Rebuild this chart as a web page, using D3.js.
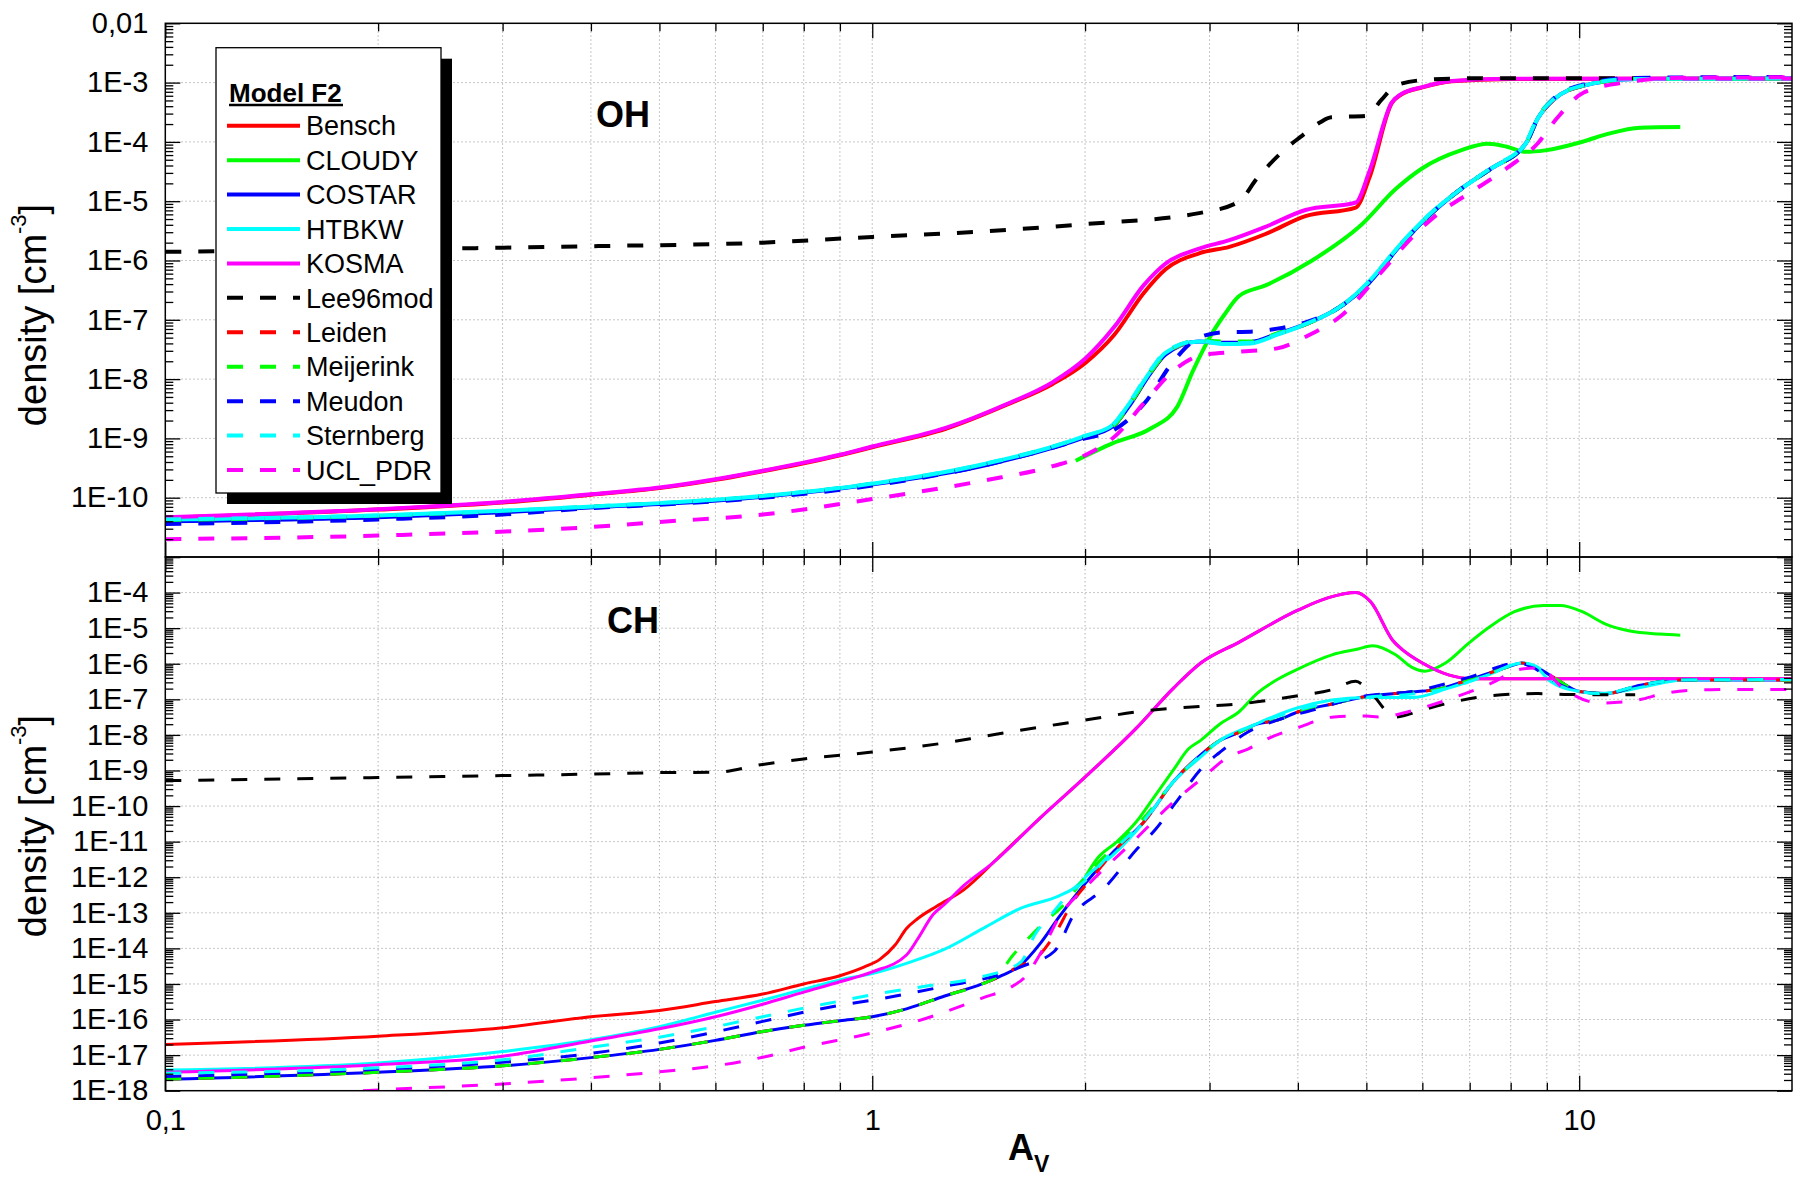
<!DOCTYPE html>
<html><head><meta charset="utf-8">
<script src="https://cdn.jsdelivr.net/npm/d3@7"></script>
<style>
body{margin:0;background:#fff}
svg{display:block}
text{font-family:"Liberation Sans",Arial,Helvetica,sans-serif}
</style></head>
<body><svg id="chart" width="1800" height="1181"></svg>
<script>
// ---------------- data ----------------
const MODELS = ["Bensch","CLOUDY","COSTAR","HTBKW","KOSMA","Lee96mod","Leiden","Meijerink","Meudon","Sternberg","UCL_PDR"];
const COLORS = ["#ff0000","#00ff00","#0000ff","#00ffff","#ff00ff","#000000","#ff0000","#00ff00","#0000ff","#00ffff","#ff00ff"];
const DASHED = [false,false,false,false,false,true,true,true,true,true,true];

const xMinorTicks = [0.2,0.3,0.4,0.5,0.6,0.7,0.8,0.9,2,3,4,5,6,7,8,9];
const xMajorTicks = [0.1,1,10];
const xMajorLabels = ["0,1","1","10"];
const yTopMajor = [1e-2,1e-3,1e-4,1e-5,1e-6,1e-7,1e-8,1e-9,1e-10,1e-11];
const yTopLabels = ["0,01","1E-3","1E-4","1E-5","1E-6","1E-7","1E-8","1E-9","1E-10",""];
const yBotMajor = [1e-3,1e-4,1e-5,1e-6,1e-7,1e-8,1e-9,1e-10,1e-11,1e-12,1e-13,1e-14,1e-15,1e-16,1e-17,1e-18];
const yBotLabels = ["","1E-4","1E-5","1E-6","1E-7","1E-8","1E-9","1E-10","1E-11","1E-12","1E-13","1E-14","1E-15","1E-16","1E-17","1E-18"];

// ---- OH panel ----
const OH_Bensch = [[0.1,4.6e-11],[0.2,6.3e-11],[0.3,8.3e-11],[0.4,1.12e-10],[0.5,1.45e-10],[0.6,2.0e-10],[0.7,2.8e-10],[0.8,3.8e-10],[0.9,5.2e-10],[1.0,7.1e-10],[1.27,1.45e-9],[1.55,3.7e-9],[1.8,8.3e-9],[2.0,1.86e-8],[2.2,5.6e-8],[2.42,2.8e-7],[2.6,7.1e-7],[2.9,1.32e-6],[3.2,1.7e-6],[3.6,2.8e-6],[4.1,5.6e-6],[4.83,7.8e-6],[5.05,2.5e-5],[5.43,4.5e-4],[5.6,6.3e-4],[6.0,8.3e-4],[6.6,1.05e-3],[8,1.15e-3],[20,1.17e-3]];
const OH_CLOUDY = [[1.94,4.2e-10],[2.19,8.3e-10],[2.48,1.48e-9],[2.7,3.4e-9],[2.84,1.35e-8],[2.92,2.7e-8],[3.0,5.0e-8],[3.15,1.23e-7],[3.3,2.5e-7],[3.6,3.8e-7],[4.19,1.0e-6],[4.92,4.0e-6],[5.5,1.6e-5],[6.0,3.6e-5],[6.8,7.2e-5],[7.43,9.3e-5],[7.9,8.3e-5],[8.41,6.8e-5],[8.95,7.2e-5],[10.15,1.02e-4],[10.94,1.35e-4],[12.2,1.74e-4],[13.9,1.78e-4]];
const OH_COSTAR = [[0.1,4.0e-11],[0.2,4.7e-11],[0.3,5.7e-11],[0.41,7.0e-11],[0.5,7.8e-11],[0.7,1.04e-10],[1.0,1.68e-10],[1.44,3.5e-10],[2.0,1.05e-9],[2.19,1.6e-9],[2.3,3.3e-9],[2.48,1.3e-8],[2.6,2.6e-8],[2.9,4.3e-8],[3.15,4.1e-8],[3.43,4.2e-8],[3.74,5.8e-8],[4.13,8.7e-8],[4.57,1.6e-7],[5.05,4.3e-7],[5.57,1.74e-6],[6.16,6.0e-6],[6.8,1.6e-5],[7.52,3.6e-5],[8.41,9.5e-5],[8.74,2.5e-4],[9.19,5.1e-4],[10.15,8.9e-4],[12,1.15e-3],[20,1.17e-3]];
const OH_HTBKW = [[0.1,4.3e-11],[0.2,5.0e-11],[0.3,6.0e-11],[0.41,7.2e-11],[0.5,8.1e-11],[0.7,1.07e-10],[1.0,1.72e-10],[1.44,3.7e-10],[2.0,1.1e-9],[2.19,1.7e-9],[2.3,3.6e-9],[2.48,1.4e-8],[2.6,2.8e-8],[2.9,4.3e-8],[3.15,3.9e-8],[3.43,4.0e-8],[3.74,5.6e-8],[4.13,8.7e-8],[4.57,1.6e-7],[5.05,4.5e-7],[5.57,1.8e-6],[6.16,6.2e-6],[6.8,1.6e-5],[7.52,3.6e-5],[8.41,9.5e-5],[8.74,2.5e-4],[9.19,5.1e-4],[10.15,8.9e-4],[12,1.15e-3],[20,1.17e-3]];
const OH_KOSMA = [[0.1,4.7e-11],[0.2,6.4e-11],[0.3,8.5e-11],[0.4,1.14e-10],[0.5,1.48e-10],[0.6,2.05e-10],[0.7,2.85e-10],[0.8,3.9e-10],[0.9,5.3e-10],[1.0,7.3e-10],[1.27,1.5e-9],[1.55,3.8e-9],[1.8,8.9e-9],[2.0,2.2e-8],[2.2,7.6e-8],[2.42,3.8e-7],[2.6,8.9e-7],[2.9,1.58e-6],[3.2,2.2e-6],[3.6,3.7e-6],[4.1,7.1e-6],[4.83,9.5e-6],[5.05,3.2e-5],[5.43,4.6e-4],[5.6,6.4e-4],[6.0,8.4e-4],[6.6,1.06e-3],[8,1.16e-3],[20,1.17e-3]];
const OH_Lee96mod = [[0.1,1.4e-6],[0.26,1.6e-6],[0.41,1.75e-6],[0.7,2.0e-6],[1.0,2.5e-6],[1.44,3.1e-6],[2.0,4.1e-6],[2.9,6.3e-6],[3.3,9.8e-6],[3.5,2.4e-5],[3.65,4.2e-5],[3.9,8.9e-5],[4.03,1.2e-4],[4.29,2.1e-4],[4.46,2.6e-4],[5.0,2.75e-4],[5.25,5.1e-4],[5.5,8.9e-4],[6.0,1.1e-3],[7.0,1.18e-3],[12,1.18e-3]];
const OH_Leiden = [[0.1,4.1e-11],[0.2,4.8e-11],[0.3,5.8e-11],[0.41,7.1e-11],[0.5,7.9e-11],[0.7,1.05e-10],[1.0,1.7e-10],[1.44,3.6e-10],[2.0,1.07e-9],[2.19,1.6e-9],[2.3,3.4e-9],[2.48,1.35e-8],[2.6,2.7e-8],[2.9,4.4e-8],[3.15,4.1e-8],[3.43,4.2e-8],[3.74,5.8e-8],[4.13,8.7e-8],[4.57,1.6e-7],[5.05,4.3e-7],[5.57,1.74e-6],[6.16,6.0e-6],[6.8,1.6e-5],[7.52,3.6e-5],[8.41,9.5e-5],[8.74,2.5e-4],[9.19,5.1e-4],[10.15,8.9e-4],[12,1.15e-3],[20,1.17e-3]];
const OH_Meijerink = [[0.1,4.0e-11],[0.2,4.8e-11],[0.3,5.8e-11],[0.41,7.1e-11],[0.5,7.9e-11],[0.7,1.05e-10],[1.0,1.7e-10],[1.44,3.6e-10],[2.0,1.07e-9],[2.19,1.6e-9],[2.3,3.4e-9],[2.48,1.35e-8],[2.6,2.7e-8],[2.9,4.5e-8],[3.15,4.3e-8],[3.43,4.3e-8],[3.74,5.9e-8],[4.13,8.7e-8],[4.57,1.6e-7],[5.05,4.3e-7],[5.57,1.74e-6],[6.16,6.0e-6],[6.8,1.6e-5],[7.52,3.6e-5],[8.41,9.5e-5],[8.74,2.6e-4],[9.19,5.3e-4],[10.15,9.0e-4],[12,1.15e-3],[20,1.17e-3]];
const OH_Meudon = [[0.1,3.6e-11],[0.2,4.3e-11],[0.3,5.2e-11],[0.41,6.8e-11],[0.5,7.6e-11],[0.7,1.0e-10],[1.0,1.6e-10],[1.44,3.5e-10],[2.0,1.0e-9],[2.2,1.4e-9],[2.45,4.5e-9],[2.65,1.8e-8],[2.9,5.0e-8],[3.15,6.2e-8],[3.43,6.3e-8],[3.74,7.1e-8],[4.13,9.3e-8],[4.57,1.6e-7],[5.05,4.3e-7],[5.57,1.74e-6],[6.16,6.0e-6],[6.8,1.6e-5],[7.52,3.6e-5],[8.41,9.5e-5],[8.74,2.5e-4],[9.19,5.3e-4],[10.15,9.3e-4],[12,1.2e-3],[20,1.25e-3]];
const OH_Sternberg = [[0.1,4.3e-11],[0.2,5.0e-11],[0.3,6.0e-11],[0.41,7.2e-11],[0.5,8.1e-11],[0.7,1.07e-10],[1.0,1.73e-10],[1.44,3.7e-10],[2.0,1.1e-9],[2.19,1.7e-9],[2.3,3.7e-9],[2.48,1.45e-8],[2.6,2.9e-8],[2.9,4.4e-8],[3.15,4.0e-8],[3.43,4.1e-8],[3.74,5.7e-8],[4.13,8.8e-8],[4.57,1.6e-7],[5.05,4.5e-7],[5.57,1.8e-6],[6.16,6.2e-6],[6.8,1.6e-5],[7.52,3.7e-5],[8.41,1.0e-4],[8.74,2.6e-4],[9.19,5.2e-4],[10.15,9.0e-4],[12,1.15e-3],[20,1.17e-3]];
const OH_UCL_PDR = [[0.1,2.0e-11],[0.2,2.3e-11],[0.4,3.2e-11],[0.5,3.9e-11],[0.7,5.2e-11],[1.0,9.5e-11],[1.44,1.95e-10],[1.8,3.4e-10],[2.0,5.2e-10],[2.22,1.17e-9],[2.42,3.9e-9],[2.7,1.55e-8],[2.915,2.5e-8],[3.3,2.9e-8],[3.74,3.3e-8],[4.13,5.4e-8],[4.63,1.23e-7],[5.2,5.6e-7],[5.9,3.0e-6],[6.3,6.0e-6],[7.0,1.38e-5],[7.9,3.6e-5],[8.74,9.5e-5],[9.3,2.5e-4],[10.15,6.8e-4],[11.7,1.02e-3],[13.6,1.2e-3],[20,1.23e-3]];

// ---- CH panel ----
const CH_Bensch = [[0.1,2.0e-17],[0.2,3.4e-17],[0.3,5.9e-17],[0.4,1.2e-16],[0.5,1.8e-16],[0.6,3.2e-16],[0.7,5.2e-16],[0.8,1.0e-15],[0.9,1.7e-15],[0.975,3.0e-15],[1.025,4.9e-15],[1.078,1.26e-14],[1.118,3.6e-14],[1.16,6.9e-14],[1.235,1.55e-13],[1.347,4.4e-13],[1.5,3.2e-12],[1.727,4.6e-11],[2.0,6.5e-10],[2.36,1.5e-8],[2.67,2.1e-7],[2.915,1.05e-6],[3.3,4.0e-6],[4.0,3.2e-5],[4.42,7.2e-5],[4.83,1.0e-4],[5.07,5.5e-5],[5.45,4.5e-6],[5.65,2.3e-6],[6.0,1.05e-6],[6.55,4.8e-7],[7.06,3.8e-7],[20,3.8e-7]];
const CH_CLOUDY = [[2.0,1.0e-12],[2.08,3.3e-12],[2.22,1.0e-11],[2.36,3.5e-11],[2.5,1.7e-10],[2.67,1.07e-9],[2.8,4.0e-9],[2.915,7.0e-9],[3.1,2.0e-8],[3.3,4.4e-8],[3.5,1.45e-7],[3.74,3.6e-7],[4.0,7.1e-7],[4.47,1.78e-6],[4.87,2.6e-6],[5.1,3.2e-6],[5.5,1.78e-6],[5.8,7.9e-7],[6.05,6.2e-7],[6.47,1.05e-6],[7.0,4.0e-6],[7.5,1.15e-5],[8.1,2.9e-5],[8.9,4.3e-5],[9.4,4.3e-5],[10.1,2.9e-5],[10.9,1.3e-5],[11.8,8.3e-6],[13,6.8e-6],[13.9,6.3e-6]];
const CH_COSTAR = [[0.1,2.1e-18],[0.2,3.3e-18],[0.3,5.0e-18],[0.4,8.5e-18],[0.5,1.45e-17],[0.6,2.6e-17],[0.7,4.6e-17],[0.8,6.9e-17],[0.9,9.3e-17],[1.0,1.2e-16],[1.118,2.0e-16],[1.266,4.6e-16],[1.43,1.0e-15],[1.526,1.74e-15],[1.62,3.3e-15],[1.73,1.4e-14],[1.84,7.9e-14],[2.0,6.6e-13],[2.2,5.5e-12],[2.42,3.5e-11],[2.67,5.0e-10],[2.915,2.75e-9],[3.1,6.9e-9],[3.3,1.17e-8],[3.5,2.0e-8],[3.74,2.6e-8],[4.0,4.4e-8],[4.47,7.4e-8],[5.0,1.2e-7],[5.8,1.6e-7],[6.3,1.9e-7],[7.0,3.6e-7],[7.9,7.9e-7],[8.3,1.05e-6],[8.7,7.9e-7],[9.3,3.6e-7],[10,1.66e-7],[10.9,1.45e-7],[12.2,2.5e-7],[13.9,3.5e-7],[20,3.5e-7]];
const CH_HTBKW = [[0.1,3.8e-18],[0.2,6.0e-18],[0.3,1.26e-17],[0.4,2.7e-17],[0.5,6.3e-17],[0.6,1.6e-16],[0.7,3.5e-16],[0.8,7.1e-16],[0.9,1.3e-15],[1.0,1.95e-15],[1.118,3.8e-15],[1.266,9.5e-15],[1.433,3.6e-14],[1.623,1.35e-13],[1.838,3.0e-13],[1.93,5.0e-13],[2.03,1.3e-12],[2.19,4.2e-12],[2.42,3.5e-11],[2.67,4.9e-10],[2.915,2.4e-9],[3.1,6.9e-9],[3.43,1.74e-8],[4.0,5.8e-8],[4.97,1.12e-7],[5.8,1.12e-7],[6.55,2.1e-7],[7.42,4.8e-7],[8.3,1.05e-6],[8.7,7.9e-7],[9.1,3.2e-7],[10,1.66e-7],[10.77,1.45e-7],[13,2.8e-7],[14,3.5e-7],[20,3.6e-7]];
const CH_KOSMA = [[0.1,3.3e-18],[0.2,5.4e-18],[0.3,9.3e-18],[0.4,2.5e-17],[0.5,5.5e-17],[0.6,1.2e-16],[0.7,2.7e-16],[0.8,5.9e-16],[0.9,1.15e-15],[1.0,2.2e-15],[1.118,6.5e-15],[1.16,1.86e-14],[1.22,9.1e-14],[1.266,1.74e-13],[1.347,5.8e-13],[1.48,2.5e-12],[1.727,4.6e-11],[2.0,6.5e-10],[2.36,1.5e-8],[2.67,2.1e-7],[2.915,1.05e-6],[3.3,4.0e-6],[4.0,3.2e-5],[4.42,7.2e-5],[4.83,1.0e-4],[5.07,5.5e-5],[5.45,4.5e-6],[5.65,2.3e-6],[6.0,1.05e-6],[6.55,4.8e-7],[7.06,3.8e-7],[20,3.8e-7]];
const CH_Lee96mod = [[0.1,5.2e-10],[0.2,6.3e-10],[0.3,7.2e-10],[0.4,7.9e-10],[0.5,8.7e-10],[0.6,8.9e-10],[0.7,1.48e-9],[0.8,2.1e-9],[1.0,3.3e-9],[1.27,6.0e-9],[1.43,8.9e-9],[1.62,1.35e-8],[2.0,2.6e-8],[2.36,4.4e-8],[2.9,6.3e-8],[3.3,7.4e-8],[4.0,1.26e-7],[4.47,1.86e-7],[4.83,3.2e-7],[5.0,2.1e-7],[5.5,3.2e-8],[6.0,5.0e-8],[6.65,8.5e-8],[7.5,1.26e-7],[8.7,1.45e-7],[10.1,1.35e-7],[12,1.35e-7]];
const CH_Leiden = [[0.1,2.1e-18],[0.2,3.3e-18],[0.3,5.0e-18],[0.4,8.5e-18],[0.5,1.45e-17],[0.6,2.6e-17],[0.7,4.6e-17],[0.8,6.9e-17],[0.9,9.3e-17],[1.0,1.2e-16],[1.118,2.0e-16],[1.266,4.6e-16],[1.43,1.0e-15],[1.526,1.74e-15],[1.62,3.3e-15],[1.7,5.0e-15],[1.8,2.0e-14],[1.93,2.3e-13],[2.05,1.0e-12],[2.2,5.5e-12],[2.42,3.5e-11],[2.67,5.0e-10],[2.915,2.75e-9],[3.1,6.9e-9],[3.3,1.17e-8],[3.5,2.0e-8],[3.74,2.6e-8],[4.0,4.4e-8],[4.47,7.4e-8],[5.0,1.2e-7],[5.8,1.6e-7],[6.3,1.9e-7],[7.0,3.6e-7],[7.9,7.9e-7],[8.3,1.05e-6],[8.7,7.9e-7],[9.3,3.6e-7],[10,1.66e-7],[10.9,1.45e-7],[12.2,2.5e-7],[13.9,3.5e-7],[20,3.5e-7]];
const CH_Meijerink = [[0.1,2.1e-18],[0.2,3.3e-18],[0.3,5.0e-18],[0.4,8.5e-18],[0.5,1.45e-17],[0.6,2.6e-17],[0.7,4.6e-17],[0.8,6.9e-17],[0.9,9.3e-17],[1.0,1.2e-16],[1.118,2.0e-16],[1.266,4.6e-16],[1.43,1.0e-15],[1.5,1.6e-15],[1.58,6.3e-15],[1.67,2.1e-14],[1.75,5.4e-14],[1.87,1.74e-13],[1.93,3.9e-13],[2.0,1.0e-12],[2.2,7.2e-12],[2.42,4.6e-11],[2.67,4.9e-10],[2.9,2.4e-9],[3.1,6.9e-9],[3.3,1.17e-8],[3.5,2.0e-8],[3.74,2.6e-8],[4.0,4.4e-8],[4.47,7.4e-8],[5.0,1.2e-7],[5.8,1.6e-7],[6.3,1.9e-7],[7.0,3.6e-7],[7.9,7.9e-7],[8.3,1.05e-6],[8.7,7.9e-7],[9.3,3.6e-7],[10,1.66e-7],[10.9,1.45e-7],[12.2,2.5e-7],[13.9,3.5e-7],[20,3.5e-7]];
const CH_Meudon = [[0.1,2.5e-18],[0.2,4.0e-18],[0.3,6.3e-18],[0.4,1.12e-17],[0.5,2.2e-17],[0.6,4.5e-17],[0.7,8.9e-17],[0.8,1.6e-16],[0.9,2.5e-16],[1.0,3.5e-16],[1.27,8.7e-16],[1.53,1.95e-15],[1.64,3.3e-15],[1.81,8.3e-15],[1.93,9.1e-14],[2.12,4.5e-13],[2.37,6.3e-12],[2.52,2.3e-11],[2.68,1.17e-10],[2.95,1.4e-9],[3.1,3.2e-9],[3.39,1.17e-8],[3.74,2.6e-8],[4.2,5.0e-8],[5.0,1.26e-7],[5.8,1.66e-7],[7.0,4.2e-7],[8.2,1.05e-6],[8.6,7.9e-7],[9.2,3.2e-7],[10,1.66e-7],[10.9,1.45e-7],[12.2,2.5e-7],[14,3.5e-7],[20,3.6e-7]];
const CH_Sternberg = [[0.1,3.1e-18],[0.2,4.4e-18],[0.3,7.4e-18],[0.4,1.66e-17],[0.5,3.2e-17],[0.6,6.3e-17],[0.7,1.2e-16],[0.8,2.1e-16],[0.9,3.3e-16],[1.0,5.0e-16],[1.2,8.9e-16],[1.43,1.6e-15],[1.62,4.0e-15],[1.7,2.5e-14],[1.8,1.0e-13],[1.9,3.5e-13],[2.0,7.9e-13],[2.2,6.0e-12],[2.42,3.8e-11],[2.67,5.0e-10],[2.915,2.6e-9],[3.1,6.9e-9],[3.43,1.74e-8],[4.0,5.0e-8],[5.0,1.15e-7],[5.8,1.4e-7],[6.55,2.1e-7],[7.42,4.8e-7],[8.3,1.05e-6],[8.7,8.5e-7],[9.1,3.5e-7],[10,1.66e-7],[10.8,1.45e-7],[12.2,2.5e-7],[14,3.5e-7],[20,3.6e-7]];
const CH_UCL_PDR = [[0.1,5.0e-19],[0.2,1.05e-18],[0.3,1.55e-18],[0.4,2.3e-18],[0.5,3.4e-18],[0.6,5.0e-18],[0.7,8.7e-18],[0.8,1.66e-17],[1.0,4.2e-17],[1.19,1.07e-16],[1.43,4.0e-16],[1.58,8.7e-16],[1.64,1.48e-15],[1.73,7.2e-15],[1.84,7.9e-14],[2.0,5.0e-13],[2.36,1.2e-11],[2.67,1.32e-10],[2.915,5.6e-10],[3.2,2.5e-9],[3.4,4.0e-9],[3.65,8.3e-9],[4.0,1.6e-8],[4.5,3.2e-8],[5.0,3.4e-8],[5.2,3.2e-8],[6.0,5.8e-8],[6.65,1.12e-7],[7.5,2.8e-7],[8.3,7.1e-7],[8.8,7.6e-7],[9.5,2.0e-7],[10.7,7.9e-8],[12,9.3e-8],[13.3,1.5e-7],[15,1.86e-7],[20,1.9e-7]];

const OH_SERIES = [OH_Bensch,OH_CLOUDY,OH_COSTAR,OH_HTBKW,OH_KOSMA,OH_Lee96mod,OH_Leiden,OH_Meijerink,OH_Meudon,OH_Sternberg,OH_UCL_PDR];
const CH_SERIES = [CH_Bensch,CH_CLOUDY,CH_COSTAR,CH_HTBKW,CH_KOSMA,CH_Lee96mod,CH_Leiden,CH_Meijerink,CH_Meudon,CH_Sternberg,CH_UCL_PDR];

// ---------------- layout ----------------
const L = 165.3, R = 1792;
const TOP1 = 23.3, BOT1 = 557, TOP2 = 557, BOT2 = 1090.7;
const svg = d3.select("#chart");

const x = d3.scaleLog().domain([0.1, 20]).range([L, R]);
const yOH = d3.scaleLog().domain([1e-11, 1e-2]).range([BOT1, TOP1]);
const yCH = d3.scaleLog().domain([1e-18, 1e-3]).range([BOT2, TOP2]);

function minorVals(scale) {
  const [a, b] = scale.domain();
  const out = [];
  for (let e = Math.round(Math.log10(a)); e < Math.round(Math.log10(b)); e++)
    for (let m = 2; m <= 9; m++) out.push(m * Math.pow(10, e));
  return out;
}

function styleAxis(g) {
  g.select(".domain").remove();
  g.selectAll(".tick line").attr("stroke", "#000").attr("stroke-width", 1.3);
  g.selectAll("text").attr("fill", "#000").attr("font-family", "Liberation Sans, Arial, sans-serif").attr("font-size", 29);
}

function panel(id, y, top, bot, majors, labels, series, lw, showXLabels) {
  const g = svg.append("g").attr("id", id);
  // grid
  const grid = g.append("g").attr("stroke", "#b4b4b4").attr("stroke-width", 1).attr("stroke-dasharray", "1.5,2.5");
  grid.selectAll("line.gx").data(xMinorTicks.concat([1, 10])).join("line")
    .attr("x1", d => x(d)).attr("x2", d => x(d)).attr("y1", top).attr("y2", bot);
  grid.selectAll("line.gy").data(majors.slice(1, -1)).join("line").attr("class", "gy")
    .attr("x1", L).attr("x2", R).attr("y1", d => y(d)).attr("y2", d => y(d));

  // clip
  svg.append("clipPath").attr("id", id + "clip").append("rect")
    .attr("x", L).attr("y", top).attr("width", R - L).attr("height", bot - top);
  const lines = g.append("g").attr("clip-path", `url(#${id}clip)`);
  const line = d3.line().x(d => x(d[0])).y(d => y(d[1])).curve(d3.curveMonotoneX);
  series.forEach((s, i) => {
    lines.append("path").datum(s).attr("d", line).attr("fill", "none")
      .attr("stroke", COLORS[i]).attr("stroke-width", lw)
      .attr("stroke-linejoin", "round")
      .attr("stroke-dasharray", DASHED[i] ? "16,17" : null);
  });

  // axes (ticks point inward)
  g.append("g").attr("transform", `translate(${L},0)`)
    .call(d3.axisLeft(y).tickValues(minorVals(y)).tickSize(-8).tickFormat("")).call(styleAxis);
  g.append("g").attr("transform", `translate(${L},0)`)
    .call(d3.axisLeft(y).tickValues(majors).tickSize(-15).tickPadding(17)
      .tickFormat((d, i) => labels[i])).call(styleAxis);
  g.append("g").attr("transform", `translate(${R},0)`)
    .call(d3.axisRight(y).tickValues(minorVals(y)).tickSize(-8).tickFormat("")).call(styleAxis);
  g.append("g").attr("transform", `translate(${R},0)`)
    .call(d3.axisRight(y).tickValues(majors).tickSize(-15).tickFormat("")).call(styleAxis);
  g.append("g").attr("transform", `translate(0,${top})`)
    .call(d3.axisTop(x).tickValues(xMinorTicks).tickSize(-8).tickFormat("")).call(styleAxis);
  g.append("g").attr("transform", `translate(0,${top})`)
    .call(d3.axisTop(x).tickValues(xMajorTicks).tickSize(-15).tickFormat("")).call(styleAxis);
  g.append("g").attr("transform", `translate(0,${bot})`)
    .call(d3.axisBottom(x).tickValues(xMinorTicks).tickSize(-8).tickFormat("")).call(styleAxis);
  g.append("g").attr("transform", `translate(0,${bot})`)
    .call(d3.axisBottom(x).tickValues(xMajorTicks).tickSize(-15).tickPadding(19)
      .tickFormat((d, i) => showXLabels ? xMajorLabels[i] : "")).call(styleAxis);

  // frame
  g.append("rect").attr("x", L).attr("y", top).attr("width", R - L).attr("height", bot - top)
    .attr("fill", "none").attr("stroke", "#000").attr("stroke-width", 1.5);
  return g;
}

panel("oh", yOH, TOP1, BOT1, yTopMajor, yTopLabels, OH_SERIES, 4, false);
panel("ch", yCH, TOP2, BOT2, yBotMajor, yBotLabels, CH_SERIES, 3, true);

// species labels
svg.append("text").attr("x", 596).attr("y", 127).attr("font-size", 36).attr("font-weight", "bold").text("OH");
svg.append("text").attr("x", 607).attr("y", 633).attr("font-size", 36).attr("font-weight", "bold").text("CH");

// y axis titles
function yTitle(cy) {
  const t = svg.append("text").attr("transform", `translate(46,${cy}) rotate(-90)`)
    .attr("text-anchor", "middle").attr("font-size", 38);
  t.append("tspan").text("density [cm");
  t.append("tspan").attr("font-size", 22).attr("dy", -20).text("-3");
  t.append("tspan").attr("dy", 20).text("]");
}
yTitle(315);
yTitle(826);

// x axis title
const xt = svg.append("text").attr("x", 1008).attr("y", 1160).attr("font-size", 36).attr("font-weight", "bold");
xt.append("tspan").text("A");
xt.append("tspan").attr("font-size", 23).attr("dy", 12).text("V");

// legend
const lg = svg.append("g");
const LX = 216, LY = 47.7, LW = 225, LH = 445.3;
lg.append("rect").attr("x", LX + 11).attr("y", LY + 11).attr("width", LW).attr("height", LH).attr("fill", "#000");
lg.append("rect").attr("x", LX).attr("y", LY).attr("width", LW).attr("height", LH)
  .attr("fill", "#fff").attr("stroke", "#000").attr("stroke-width", 1.3);
lg.append("text").attr("x", 229).attr("y", 101.5).attr("font-size", 26).attr("font-weight", "bold").text("Model F2");
lg.append("line").attr("x1", 229).attr("x2", 343).attr("y1", 105).attr("y2", 105).attr("stroke", "#000").attr("stroke-width", 2.5);
MODELS.forEach((m, i) => {
  const cy = 125.7 + i * 34.43;
  lg.append("line").attr("x1", 227).attr("x2", 300).attr("y1", cy).attr("y2", cy)
    .attr("stroke", COLORS[i]).attr("stroke-width", 4)
    .attr("stroke-dasharray", DASHED[i] ? "16,17" : null);
  lg.append("text").attr("x", 306).attr("y", cy + 9.7).attr("font-size", 27).text(m);
});
</script></body></html>
